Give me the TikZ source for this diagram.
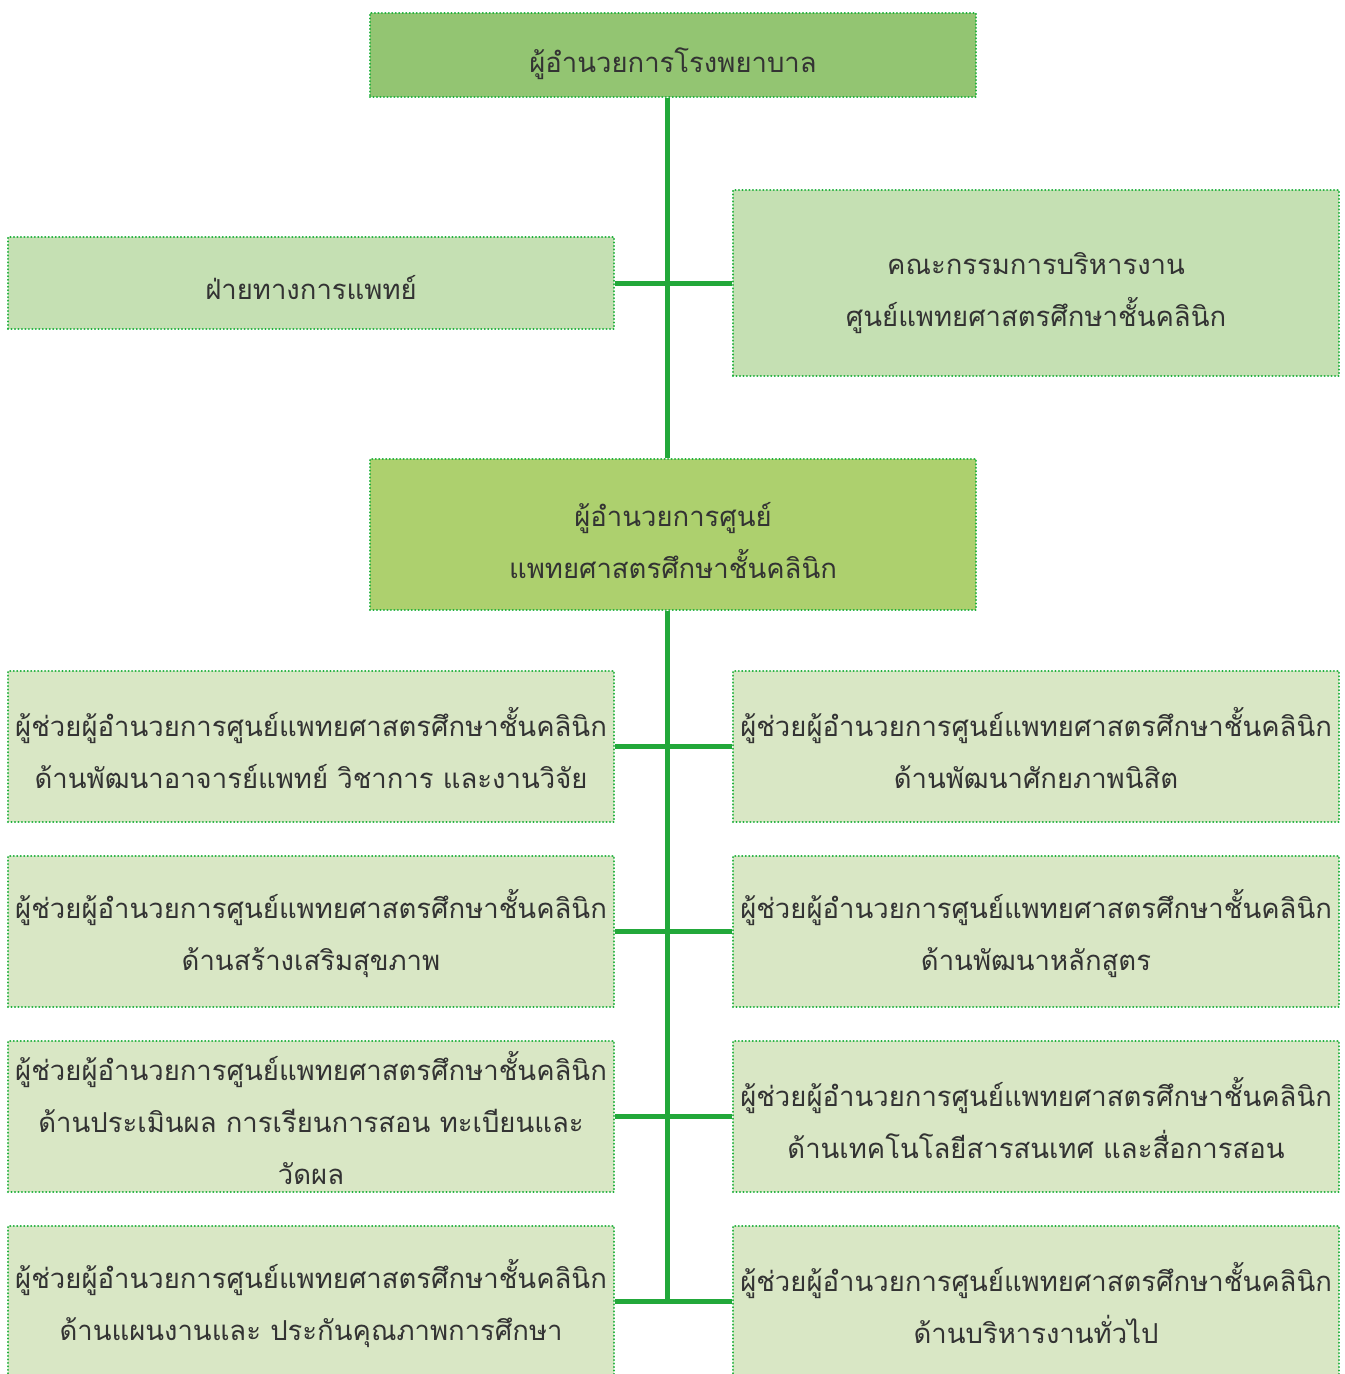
\documentclass[tikz,border=0pt]{standalone}
\usepackage{fontspec}
\newfontfamily\thai[Script=Thai]{Loma}
\newcommand\dn[2]{\raisebox{#1}{\vphantom{#2}}#2}
\definecolor{topfill}{HTML}{93C572}
\definecolor{ctrfill}{HTML}{ADD06E}
\definecolor{midfill}{HTML}{C5E0B3}
\definecolor{lowfill}{HTML}{D9E7C5}
\definecolor{edge}{HTML}{1FB03C}
\definecolor{link}{HTML}{22A83A}
\definecolor{txt}{HTML}{333333}
\begin{document}
\begin{tikzpicture}[x=0.75pt,y=-0.75pt,
  box/.style={draw=edge,line width=1.8pt,dash pattern=on 0.01pt off 2.6pt,line cap=round,
    minimum width=454.5pt,inner sep=0pt,align=center,text=txt,
    font=\thai\fontsize{20.6}{39}\selectfont},
  lnk/.style={draw=link,line width=3.75pt}]
\useasboundingbox (0,0) rectangle (1345,1374);
\node[box,fill=topfill,minimum height=63pt] (top) at (673,55) {\dn{13.5pt}{ผู้อำนวยการโรงพยาบาล}};
\node[box,fill=midfill,minimum height=69pt] (med) at (311,283) {\dn{7.5pt}{ฝ่ายทางการแพทย์}};
\node[box,fill=midfill,minimum height=139.5pt] (board) at (1036,283) {\dn{15pt}{คณะกรรมการบริหารงาน}\\ศูนย์แพทยศาสตรศึกษาชั้นคลินิก};
\node[box,fill=ctrfill,minimum height=113.25pt] (ctr) at (673,534.5) {\dn{9pt}{ผู้อำนวยการศูนย์}\\แพทยศาสตรศึกษาชั้นคลินิก};
\node[box,fill=lowfill,minimum height=113.25pt] (l1) at (311,746.5) {\dn{3pt}{ผู้ช่วยผู้อำนวยการศูนย์แพทยศาสตรศึกษาชั้นคลินิก}\\ด้านพัฒนาอาจารย์แพทย์ วิชาการ และงานวิจัย};
\node[box,fill=lowfill,minimum height=113.25pt] (r1) at (1036,746.5) {\dn{3pt}{ผู้ช่วยผู้อำนวยการศูนย์แพทยศาสตรศึกษาชั้นคลินิก}\\ด้านพัฒนาศักยภาพนิสิต};
\node[box,fill=lowfill,minimum height=113.25pt] (l2) at (311,931.5) {\dn{3pt}{ผู้ช่วยผู้อำนวยการศูนย์แพทยศาสตรศึกษาชั้นคลินิก}\\ด้านสร้างเสริมสุขภาพ};
\node[box,fill=lowfill,minimum height=113.25pt] (r2) at (1036,931.5) {\dn{3pt}{ผู้ช่วยผู้อำนวยการศูนย์แพทยศาสตรศึกษาชั้นคลินิก}\\ด้านพัฒนาหลักสูตร};
\node[box,fill=lowfill,minimum height=113.25pt] (l3) at (311,1116.5) {\dn{3pt}{ผู้ช่วยผู้อำนวยการศูนย์แพทยศาสตรศึกษาชั้นคลินิก}\\ด้านประเมินผล การเรียนการสอน ทะเบียนและ\\วัดผล};
\node[box,fill=lowfill,minimum height=113.25pt] (r3) at (1036,1116.5) {\dn{3pt}{ผู้ช่วยผู้อำนวยการศูนย์แพทยศาสตรศึกษาชั้นคลินิก}\\ด้านเทคโนโลยีสารสนเทศ และสื่อการสอน};
\node[box,fill=lowfill,minimum height=113.25pt] (l4) at (311,1301.5) {\dn{3pt}{ผู้ช่วยผู้อำนวยการศูนย์แพทยศาสตรศึกษาชั้นคลินิก}\\ด้านแผนงานและ ประกันคุณภาพการศึกษา};
\node[box,fill=lowfill,minimum height=113.25pt] (r4) at (1036,1301.5) {\dn{3pt}{ผู้ช่วยผู้อำนวยการศูนย์แพทยศาสตรศึกษาชั้นคลินิก}\\ด้านบริหารงานทั่วไป};
\coordinate (bot) at (667,1302);
\draw[lnk] (top.south -| bot) -- (ctr.north -| bot);
\draw[lnk] (ctr.south -| bot) -- (bot);
\draw[lnk] (med.east) -- (board.west);
\draw[lnk] (l1.east) -- (r1.west);
\draw[lnk] (l2.east) -- (r2.west);
\draw[lnk] (l3.east) -- (r3.west);
\draw[lnk] (l4.east) -- (r4.west);
\end{tikzpicture}
\end{document}
